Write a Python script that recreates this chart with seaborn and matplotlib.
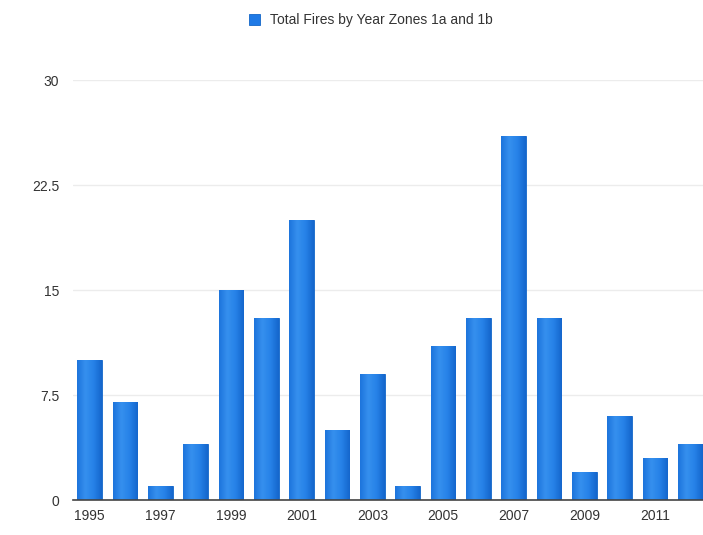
import numpy as np
import pandas as pd
import matplotlib
matplotlib.use("Agg")
import matplotlib.pyplot as plt
import seaborn as sns

# Data
years = [1995, 1996, 1997, 1998, 1999, 2000, 2001, 2002, 2003,
         2004, 2005, 2006, 2007, 2008, 2009, 2010, 2011, 2012]
fires = [10, 7, 1, 4, 15, 13, 20, 5, 9, 1, 11, 13, 26, 13, 2, 6, 3, 4]
y_ticks = [0, 7.5, 15, 22.5, 30]
y_tick_labels = ["0", "7.5", "15", "22.5", "30"]
series_name = "Total Fires by Year Zones 1a and 1b"

df = pd.DataFrame({"Year": [str(y) for y in years], "Fires": fires})

sns.set_theme(style="white")
plt.rcParams["font.family"] = ["Liberation Sans", "DejaVu Sans"]

fig = plt.figure(figsize=(7.03, 5.35), dpi=100)
ax = fig.add_axes([0.104, 0.065, 0.896, 0.785])

sns.barplot(data=df, x="Year", y="Fires", color="#1f7ae6", saturation=1,
            width=0.7, edgecolor="#1466c8", linewidth=0.6, ax=ax,
            label=series_name, zorder=3)

# soft horizontal gradient inside each bar
grad = np.linspace(0, 1, 64).reshape(1, -1)
cmap = matplotlib.colors.LinearSegmentedColormap.from_list(
    "bar", ["#1d74dc", "#3690ee", "#2682e8", "#1566cc"])
for patch in ax.patches:
    x0, y0 = patch.get_x(), patch.get_y()
    w, h = patch.get_width(), patch.get_height()
    im = ax.imshow(grad, cmap=cmap, aspect="auto", extent=[x0, x0 + w, y0, y0 + h],
                   zorder=3.5, interpolation="bicubic")
    im.set_clip_path(patch)

ax.set_ylim(0, 30)
ax.set_xlim(-0.47, len(years) - 0.64)
ax.set_yticks(y_ticks)
ax.set_yticklabels(y_tick_labels)
ax.set_xticks(range(0, len(years), 2))
ax.set_xticklabels([str(y) for y in years[::2]])
ax.tick_params(axis="both", labelsize=10, colors="#333333", length=0, pad=6)
ax.tick_params(axis="y", pad=10)
ax.set_xlabel("")
ax.set_ylabel("")

ax.yaxis.grid(True, color="#ececec", linewidth=1, zorder=0)
for side in ["top", "right", "left"]:
    ax.spines[side].set_visible(False)
ax.spines["bottom"].set_color("#444444")
ax.spines["bottom"].set_linewidth(1.2)
ax.spines["bottom"].set_zorder(4)

leg = fig.legend(*ax.get_legend_handles_labels(), loc="center",
                 bbox_to_anchor=(0.527, 0.962), frameon=False, fontsize=10,
                 handlelength=0.8, handleheight=0.8, handletextpad=0.7)
if ax.get_legend():
    ax.get_legend().remove()
for t in leg.get_texts():
    t.set_color("#333333")

fig.savefig("out.png", dpi=100)
